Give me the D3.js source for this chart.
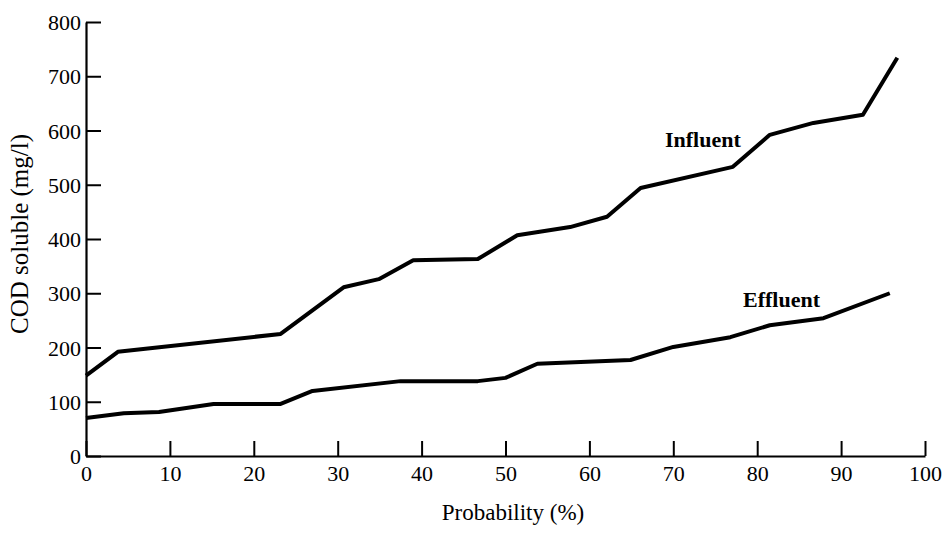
<!DOCTYPE html>
<html>
<head>
<meta charset="utf-8">
<script src="https://cdn.jsdelivr.net/npm/d3@7"></script>
<style>
  html, body { margin: 0; padding: 0; background: #fff; }
  svg { display: block; }
  text { font-family: "Liberation Serif", "Times New Roman", serif; fill: #000; }
</style>
</head>
<body>
<svg id="chart" width="947" height="533"></svg>
<script>
// ---- data ----
const influentProb = [0, 3.8, 23.2, 30.7, 34.9, 39, 46.7, 51.4, 57.7, 62.1, 66.1, 77.1, 81.5, 86.7, 92.6, 96.7];
const influentCOD  = [148, 192, 225, 311, 326, 361, 363, 407, 422, 441, 494, 533, 592, 614, 629, 734];
const effluentProb = [0, 4.5, 8.7, 15.2, 23.2, 27, 37.5, 46.7, 50, 53.8, 64.9, 70, 76.8, 81.5, 87.9, 95.8];
const effluentCOD  = [70, 79, 81, 96, 96, 120, 138, 138, 144, 170, 177, 201, 219, 241, 254, 300];
const xTicks = [0, 10, 20, 30, 40, 50, 60, 70, 80, 90, 100];
const yTicks = [0, 100, 200, 300, 400, 500, 600, 700, 800];
const xTitle = "Probability (%)";
const yTitle = "COD soluble (mg/l)";
const seriesLabels = ["Influent", "Effluent"];

// ---- layout ----
const svg = d3.select("#chart");
const x = d3.scaleLinear().domain([0, 100]).range([86, 925]);
const y = d3.scaleLinear().domain([0, 800]).range([456, 22]);

// axes
const xAxis = d3.axisBottom(x).tickValues(xTicks).tickFormat(d3.format("d"))
  .tickSizeInner(-15).tickSizeOuter(0).tickPadding(9);
const yAxis = d3.axisLeft(y).tickValues(yTicks).tickFormat(d3.format("d"))
  .tickSizeInner(-15).tickSizeOuter(0).tickPadding(5);

const gx = svg.append("g").attr("transform", `translate(0,${y(0)})`).call(xAxis);
const gy = svg.append("g").attr("transform", `translate(${x(0)},0)`).call(yAxis);

[gx, gy].forEach(g => {
  g.select(".domain").attr("stroke", "#000").attr("stroke-width", 2.2);
  g.selectAll(".tick line").attr("stroke", "#000").attr("stroke-width", 2);
  g.selectAll(".tick text").attr("font-size", 22)
    .attr("font-family", "'Liberation Serif', serif").attr("fill", "#000");
});
gy.selectAll(".tick text").attr("dy", "0.35em");

// axis titles
svg.append("text").attr("x", 513).attr("y", 520).attr("text-anchor", "middle")
  .attr("font-size", 23).text(xTitle);
svg.append("text")
  .attr("transform", `translate(28,${234}) rotate(-90)`)
  .attr("text-anchor", "middle").attr("font-size", 25).text(yTitle);

// lines
const line = d3.line().x(d => x(d[0])).y(d => y(d[1]));
const infl = influentProb.map((p, i) => [p, influentCOD[i]]);
const effl = effluentProb.map((p, i) => [p, effluentCOD[i]]);
[infl, effl].forEach(data => {
  svg.append("path").datum(data).attr("d", line)
    .attr("fill", "none").attr("stroke", "#000").attr("stroke-width", 4)
    .attr("stroke-linejoin", "round").attr("stroke-linecap", "butt");
});

// series labels
svg.append("text").attr("x", 665).attr("y", 147).attr("font-size", 22)
  .attr("font-weight", "bold").text(seriesLabels[0]);
svg.append("text").attr("x", 743).attr("y", 307).attr("font-size", 22)
  .attr("font-weight", "bold").text(seriesLabels[1]);
</script>
</body>
</html>
